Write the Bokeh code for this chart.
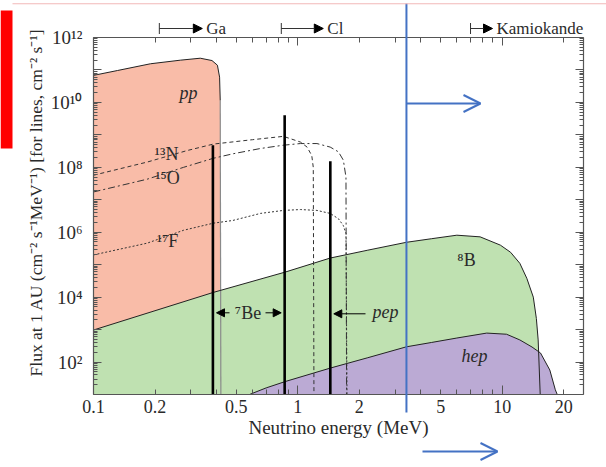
import math
from bokeh.plotting import figure
from bokeh.models import (LogAxis, FixedTicker, Range1d, Label, Arrow, NormalHead,
                          OpenHead, TeeHead, BoxAnnotation)
from bokeh.core.properties import value
from bokeh.embed import file_html
from bokeh.resources import INLINE

# ---------------- data (energy in MeV, flux) ----------------
pp_energy = [0.1, 0.131, 0.19, 0.266, 0.333, 0.38, 0.404, 0.414, 0.417, 0.42]
pp_flux = [6.8e10, 9.6e10, 1.55e11, 2.0e11, 2.3e11, 1.95e11, 1.4e11, 6.0e10, 1.15e10, 10]

b8_energy = [0.1, 0.386, 0.866, 1.44, 2.2, 3.4, 4.5, 6.0, 7.8, 9.8, 11.0, 12.2, 13.2,
             14.2, 14.7, 15.0, 15.35]
b8_flux = [9.7e2, 1.4e4, 5.9e4, 1.6e5, 2.8e5, 4.9e5, 6.3e5, 8.1e5, 7.2e5, 4.0e5, 2.4e5,
           1.1e5, 3.8e4, 1.0e4, 2.2e3, 4.8e2, 10]

hep_energy = [0.58, 0.7, 0.866, 1.44, 2.2, 3.4, 4.5, 6.0, 8.4, 10.5, 12.2, 14.0, 15.4,
              17.1, 18.2, 18.6]
hep_flux = [10, 16, 25, 65, 136, 295, 400, 550, 780, 720, 480, 290, 190, 57, 14, 10]

n13_energy = [0.1, 0.183, 0.288, 0.386, 0.6, 0.85, 1.03, 1.11, 1.17, 1.19, 1.199]
n13_flux = [5.7e7, 1.45e8, 3.3e8, 5.2e8, 7.1e8, 9.0e8, 6.0e8, 4.2e8, 2.3e8, 1.0e8, 10]

o15_energy = [0.1, 0.183, 0.276, 0.386, 0.48, 0.656, 0.85, 1.03, 1.24, 1.44, 1.58, 1.67,
              1.72, 1.732]
o15_flux = [1.74e7, 4.3e7, 1.0e8, 1.9e8, 2.6e8, 3.8e8, 4.8e8, 5.4e8, 5.4e8, 4.2e8, 3.0e8,
            1.66e8, 5.0e7, 10]

f17_energy = [0.1, 0.183, 0.276, 0.386, 0.48, 0.656, 0.85, 1.03, 1.24, 1.44, 1.58, 1.67,
              1.72, 1.74]
f17_flux = [2.0e5, 4.6e5, 1.15e6, 1.9e6, 2.3e6, 3.8e6, 4.7e6, 5.0e6, 4.7e6, 3.8e6, 2.6e6,
            1.6e6, 9.1e5, 10]

line_names = ["7Be", "7Be", "pep"]
line_energy = [0.384, 0.862, 1.442]
line_flux = [4.8e8, 4.0e9, 1.55e8]

threshold_names = ["Ga", "Cl", "Kamiokande"]
threshold_energy = [0.21, 0.83, 7.0]

marker_energy = 3.4

x_tick_values = [0.1, 0.2, 0.5, 1, 2, 5, 10, 20]
x_tick_labels = ["0.1", "0.2", "0.5", "1", "2", "5", "10", "20"]
x_minor_values = [0.3, 0.4, 0.6, 0.7, 0.8, 0.9, 3, 4, 6, 7, 8, 9]
x_decades = [1, 10]
x_top_major = [0.1, 1, 10]
x_top_minor = [0.2, 0.3, 0.4, 0.5, 0.6, 0.7, 0.8, 0.9, 2, 3, 4, 5, 6, 7, 8, 9, 20]

y_tick_values = [1e1, 1e2, 1e3, 1e4, 1e5, 1e6, 1e7, 1e8, 1e9, 1e10, 1e11, 1e12]
y_tick_labels = ["", "10²", "", "10⁴", "", "10⁶", "", "10⁸", "", "10¹⁰", "", "10¹²"]
y_minor_values = [m * d for d in y_tick_values[:-1] for m in range(2, 10)]

X_MIN, X_MAX = 0.1, 25.0
Y_MIN, Y_MAX = 10.0, 1e12

# ---------------- layout (pixels) ----------------
W, H = 606, 467
CH_L, CH_R, CH_T, CH_B = 93, 583, 37, 394
KX = (CH_R - CH_L) / math.log10(X_MAX / X_MIN)
KY = (CH_B - CH_T) / math.log10(Y_MAX / Y_MIN)


def ex(px):
    return X_MIN * 10 ** ((px - CH_L) / KX)


def fy(py):
    return Y_MIN * 10 ** ((CH_B - py) / KY)


def px_of(e):
    return CH_L + KX * math.log10(e / X_MIN)


FLOOR = Y_MIN
SERIF = "Liberation Serif"
PINK = "#F9BCA8"
GREEN = "#BFE1B1"
PURPLE = "#BBAAD4"
BLUE = "#4472C4"
AX = "#555555"
TXT = "#2a2a2a"

p = figure(width=W, height=H, x_axis_type="log", y_axis_type="log",
           x_axis_location=None, y_axis_location=None,
           x_range=Range1d(ex(0), ex(W)), y_range=Range1d(fy(H), fy(0)),
           output_backend="svg", toolbar_location=None, min_border=0,
           outline_line_color=None, background_fill_color="white",
           border_fill_color="white")
p.xgrid.visible = False
p.ygrid.visible = False

# ---------------- filled spectra ----------------
p.patch(pp_energy + [pp_energy[0]], pp_flux + [FLOOR], fill_color=PINK, line_color=None)
p.patch(b8_energy + [b8_energy[0]], b8_flux + [FLOOR], fill_color=GREEN, line_color=None)
p.line(pp_energy[-2:], pp_flux[-2:], line_color="#8a8a8a", line_width=1.2)
p.patch(hep_energy + [hep_energy[0]], hep_flux + [FLOOR],
        fill_color=PURPLE, line_color=None)

p.line(pp_energy[:-1], pp_flux[:-1], line_color="#222222", line_width=1)
p.line(b8_energy, b8_flux, line_color="#222222", line_width=1)
p.line(hep_energy, hep_flux, line_color="#222222", line_width=1)

# ---------------- CNO spectra ----------------
p.line(n13_energy, n13_flux, line_color="#333333", line_width=1, line_dash="4 3")
p.line(o15_energy, o15_flux, line_color="#333333", line_width=1, line_dash="7 3 2 3")
p.line(f17_energy, f17_flux, line_color="#333333", line_width=1, line_dash="2 2")

# ---------------- line sources ----------------
p.segment(x0=line_energy, y0=[FLOOR] * 3, x1=line_energy, y1=line_flux,
          line_color="black", line_width=2.6)


def make_axis(side, loc, bounds, major, minor, labels, major_len, minor_len):
    ax = LogAxis(fixed_location=loc, bounds=bounds,
                 ticker=FixedTicker(ticks=major, minor_ticks=minor))
    ax.major_label_overrides = {v: l for v, l in zip(major, labels)}
    ax.major_tick_in = major_len
    ax.major_tick_out = 0
    ax.minor_tick_in = minor_len
    ax.minor_tick_out = 0
    ax.axis_line_color = AX
    ax.axis_line_width = 1.2
    ax.major_tick_line_color = AX
    ax.minor_tick_line_color = AX
    ax.major_label_text_font = SERIF
    ax.major_label_text_font_size = "18px"
    ax.major_label_text_color = TXT
    ax.axis_label_text_font = SERIF
    ax.axis_label_text_font_style = "normal"
    ax.axis_label_text_color = TXT
    p.add_layout(ax, side)
    return ax


xa = make_axis("below", Y_MIN, (X_MIN, X_MAX), x_tick_values, x_minor_values,
               x_tick_labels, 5, 5)
xa.major_label_standoff = 5
xa.axis_label = "Neutrino energy (MeV)"
xa.axis_label_text_font_size = "19px"
xa.axis_label_standoff = 1

# longer decade ticks on the bottom edge
xd = make_axis("below", Y_MIN, (X_MIN, X_MAX), x_decades, [], [""] * len(x_decades), 9, 0)
xd.axis_line_color = None

ya = make_axis("left", X_MIN, (Y_MIN, Y_MAX), y_tick_values, y_minor_values,
               y_tick_labels, 8, 4)
ya.major_label_standoff = 11
ya.major_label_text_font_size = "19px"

make_axis("above", Y_MAX, (X_MIN, X_MAX), x_top_major, x_top_minor,
          [""] * len(x_top_major), 8, 5)
make_axis("right", X_MAX, (Y_MIN, Y_MAX), y_tick_values, y_minor_values,
          [""] * len(y_tick_values), 8, 4)

p.text(x=[ex(35)], y=[fy(202)],
       text=["Flux at 1 AU (cm⁻² s⁻¹MeV⁻¹) [for lines, cm⁻² s⁻¹]"],
       angle=math.pi / 2, text_align="center", text_baseline="middle",
       text_font=value(SERIF), text_font_size=value("17.5px"), text_color=TXT)


# ---------------- labels ----------------
def lab(px, py, text, size="18px", style="normal", align="center"):
    p.add_layout(Label(x=ex(px), y=fy(py), text=text, text_font=SERIF,
                       text_font_size=size, text_font_style=style, text_align=align,
                       text_baseline="middle", text_color=TXT))


lab(188, 92, "pp", style="italic")
lab(166, 153, "¹³N")
lab(167, 177, "¹⁵O")
lab(167, 240, "¹⁷F")
lab(247.5, 312, "⁷Be")
lab(385, 311, "pep", style="italic")
lab(466, 259, "⁸B")
lab(474, 355, "hep", style="italic")


def arrow_px(x0, y0, x1, y1, color="black", width=1.0, end=None, start=None):
    p.add_layout(Arrow(x_start=ex(x0), y_start=fy(y0), x_end=ex(x1), y_end=fy(y1),
                       start=start, end=end, line_color=color, line_width=width))


def small_head():
    return NormalHead(size=8, fill_color="black", line_color="black")


arrow_px(229, 312.3, 216, 312.3, end=small_head())
arrow_px(265, 312.3, 280.7, 312.3, end=small_head())
arrow_px(365, 313.3, 333.3, 313.3, end=small_head())

# detector thresholds along the top
threshold_len = [43, 42, 22]
for name, e0, ln in zip(threshold_names, threshold_energy, threshold_len):
    x0 = px_of(e0)
    arrow_px(x0, 28, x0 + ln, 28, color="#333333",
             start=TeeHead(size=11, line_color="#333333", line_width=1),
             end=NormalHead(size=9, fill_color="black", line_color="black"))
    lab(x0 + ln + 4, 28, name, size="17px", align="left")

# slide overlays: blue marker with arrows, red tab, pink rule
mx = px_of(marker_energy)
arrow_px(mx, 412, mx, 3, color=BLUE, width=2)
arrow_px(mx, 103, 480, 103, color=BLUE, width=2,
         end=OpenHead(size=17, line_color=BLUE, line_width=2))
arrow_px(422, 451, 497, 451, color=BLUE, width=2,
         end=OpenHead(size=17, line_color=BLUE, line_width=2))
p.add_layout(BoxAnnotation(left=ex(0), right=ex(12), bottom=fy(148), top=fy(10),
                           fill_color="#FF0000", fill_alpha=1, line_color=None))
p.add_layout(BoxAnnotation(left=ex(12), right=ex(W), bottom=fy(3.8), top=fy(2.8),
                           fill_color="#F2B8B8", fill_alpha=1, line_color=None))

open("out.html", "w").write(file_html(p, INLINE))
